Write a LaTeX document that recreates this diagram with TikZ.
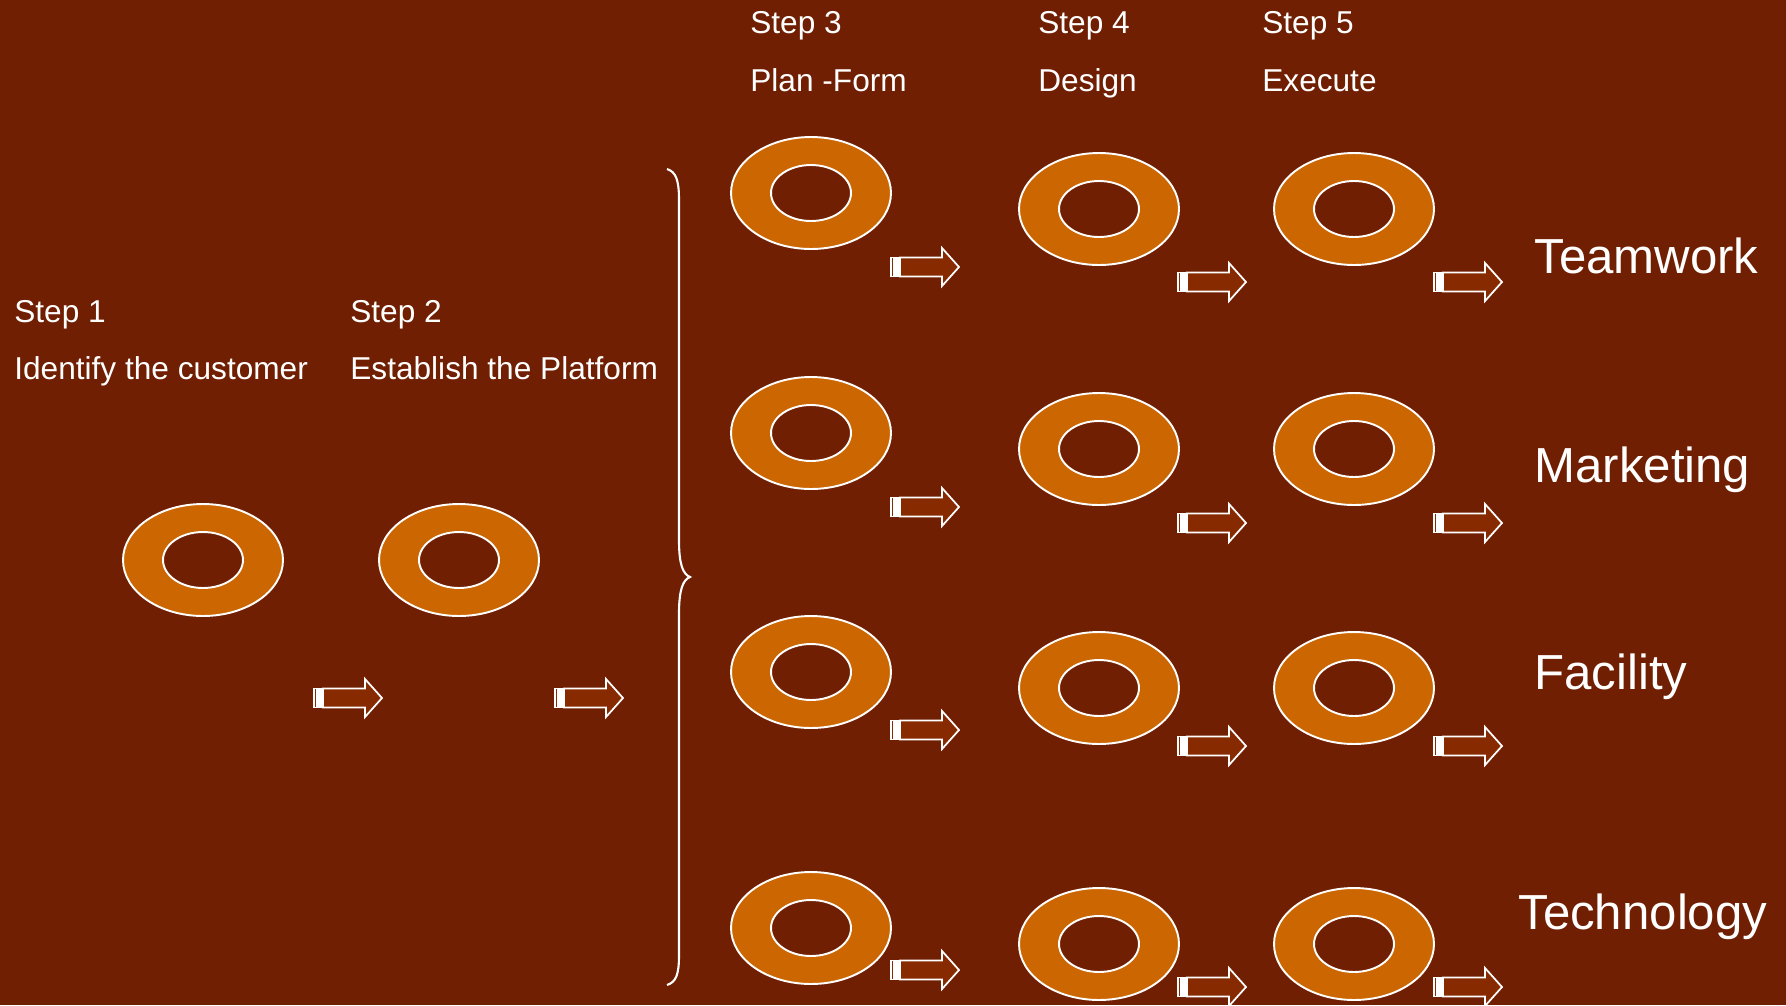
\documentclass[tikz,border=0pt]{standalone}
\usepackage{fontspec}
\setmainfont{Liberation Sans}
\definecolor{bgred}{HTML}{701F02}
\definecolor{dorange}{HTML}{CC6600}
\definecolor{arrowfill}{HTML}{872A00}
\usetikzlibrary{shapes.geometric,positioning}

\begin{document}
\begin{tikzpicture}[x=0.02cm,y=-0.02cm,
      every node/.style={text=white,inner sep=0pt},
      ring/.style={ellipse,draw=white,line width=1.1pt,fill=dorange,minimum width=3.2cm,minimum height=2.24cm},
      hole/.style={ellipse,draw=white,line width=1.1pt,fill=bgred,minimum width=1.6cm,minimum height=1.12cm},
      steptext/.style={anchor=base west,font=\fontsize{18}{22}\selectfont},
      areatext/.style={anchor=base west,font=\fontsize{28}{33}\selectfont},
      stripedarrow/.pic={
        \draw[white,line width=1pt,fill=arrowfill] (0,-9.5) rectangle (3,9.5) (5,-9.5) rectangle (7,9.5);
        \draw[white,line width=1pt,fill=arrowfill] (9,-9.5) -- (51,-9.5) -- (51,-19) -- (68,0) -- (51,19) -- (51,9.5) -- (9,9.5) -- cycle;
      }]
    \useasboundingbox (0,0) rectangle (1786,1005);
    \clip (0,0) rectangle (1786,1005);
    \fill[bgred] (0,0) rectangle (1786,1005);

    % step labels
    \node[steptext] (s1) at (14,322) {Step 1};
    \node[steptext] (t1) at (14,379) {Identify the customer};
    \node[steptext] (s2) at (350,322) {Step 2};
    \node[steptext] (t2) at (350,379) {Establish the Platform};
    \node[steptext] (s3) at (750,33) {Step 3};
    \node[steptext] (t3) at (750,91) {Plan -Form};
    \node[steptext] (s4) at (1038,33) {Step 4};
    \node[steptext] (t4) at (1038,91) {Design};
    \node[steptext] (s5) at (1262,33) {Step 5};
    \node[steptext] (t5) at (1262,91) {Execute};

    % rings
    \foreach \n/\x/\y in {r1/203/560, r2/459/560,
        r31/811/193, r32/811/433, r33/811/672, r34/811/928,
        r41/1099/209, r42/1099/449, r43/1099/688, r44/1099/944,
        r51/1354/209, r52/1354/449, r53/1354/688, r54/1354/944} {
      \node[ring] (\n) at (\x,\y) {};
      \node[hole] (\n-h) at (\n) {};
    }

    % arrows
    \pic at (314,698) {stripedarrow};
    \pic at (555,698) {stripedarrow};
    \foreach \y in {267,507,730,970} {
      \pic at (891,\y) {stripedarrow};
    }
    \foreach \y in {282,523,746,987} {
      \pic at (1178,\y) {stripedarrow};
      \pic at (1434,\y) {stripedarrow};
    }

    % brace
    \coordinate (btop) at (667,169);
    \coordinate (btip) at (690,577);
    \coordinate (bbot) at (667,985);
    \draw[white,line width=1.2pt] (btop) .. controls (676,172) and (679,180) .. (679,200)
      -- (679,540) .. controls (679,565) and (683,574) .. (btip)
      .. controls (683,580) and (679,589) .. (679,614)
      -- (679,955) .. controls (679,975) and (676,982) .. (bbot);

    % areas
    \node[areatext] (a1) at (1534,273) {Teamwork};
    \node[areatext] (a2) at (1534,482) {Marketing};
    \node[areatext] (a3) at (1534,689) {Facility};
    \node[areatext] (a4) at (1518,929) {Technology};
  \end{tikzpicture}
\end{document}
